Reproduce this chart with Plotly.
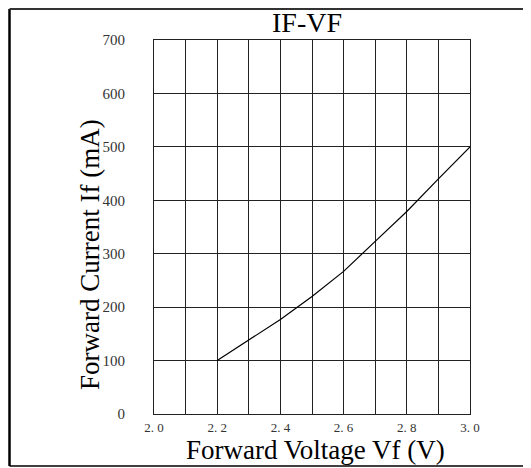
import plotly.graph_objects as go

vf = [2.2, 2.3, 2.4, 2.5, 2.6, 2.7, 2.8, 2.9, 3.0]
if_ma = [100, 138, 177, 220, 267, 323, 379, 440, 500]

x_tickvals = [2.0, 2.1, 2.2, 2.3, 2.4, 2.5, 2.6, 2.7, 2.8, 2.9, 3.0]
x_ticktext = ["2. 0", "", "2. 2", "", "2. 4", "", "2. 6", "", "2. 8", "", "3. 0"]
y_tickvals = [0, 100, 200, 300, 400, 500, 600, 700]
y_ticktext = ["0", "100", "200", "300", "400", "500", "600", "700"]

serif = "Liberation Serif, Times New Roman, serif"

# page body has an 8px default margin, so the figure is sized to fit inside
W, H = 523, 460
ML, MR, MT, MB = 146, 61, 32, 54
PW, PH = W - ML - MR, H - MT - MB


def px(xpage):
    return (xpage - 8 - ML) / PW


def py(ypage):
    return (H - MB + 8 - ypage) / PH


fig = go.Figure()
fig.add_trace(go.Scatter(x=vf, y=if_ma, mode="lines",
                         line=dict(color="black", width=1.2),
                         showlegend=False, hoverinfo="skip"))

fig.update_layout(
    width=W, height=H,
    margin=dict(l=ML, r=MR, t=MT, b=MB, autoexpand=False),
    paper_bgcolor="white", plot_bgcolor="white",
    font=dict(family=serif, color="#333"),
    xaxis=dict(range=[2.0, 3.0], tickvals=x_tickvals, ticktext=x_ticktext,
               showgrid=True, gridcolor="#222", gridwidth=1,
               showline=True, linecolor="#222", linewidth=1, mirror=True,
               zeroline=False, ticks="", ticklabelstandoff=1,
               tickfont=dict(family=serif, size=13, color="#333")),
    yaxis=dict(range=[0, 700], tickvals=y_tickvals, ticktext=y_ticktext,
               showgrid=True, gridcolor="#222", gridwidth=1,
               showline=True, linecolor="#222", linewidth=1, mirror=True,
               zeroline=False, ticks="", ticklabelstandoff=25,
               tickfont=dict(family=serif, size=15, color="#333")),
    annotations=[
        dict(text="IF-VF", xref="paper", yref="paper", x=px(307), y=py(22),
             xanchor="center", yanchor="middle", showarrow=False,
             font=dict(family=serif, size=28, color="black")),
        dict(text="Forward Voltage Vf (V)", xref="paper", yref="paper",
             x=px(315), y=py(467), xanchor="center", yanchor="bottom",
             showarrow=False, font=dict(family=serif, size=27, color="black")),
        dict(text="Forward Current If (mA)", xref="paper", yref="paper",
             x=px(90), y=py(255), xanchor="center", yanchor="middle",
             textangle=-90, showarrow=False,
             font=dict(family=serif, size=27, color="black")),
    ],
)

# outer frame of the figure
fig.add_shape(type="line", xref="paper", yref="paper",
              x0=px(9.5), x1=px(9.5), y0=py(466), y1=py(9),
              line=dict(color="black", width=2.5))
fig.add_shape(type="line", xref="paper", yref="paper",
              x0=px(9.5), x1=px(540), y0=py(9), y1=py(9),
              line=dict(color="#333", width=2))
fig.add_shape(type="line", xref="paper", yref="paper",
              x0=px(9.5), x1=px(540), y0=py(466), y1=py(466),
              line=dict(color="black", width=1.5))

fig.write_html("out.html")
